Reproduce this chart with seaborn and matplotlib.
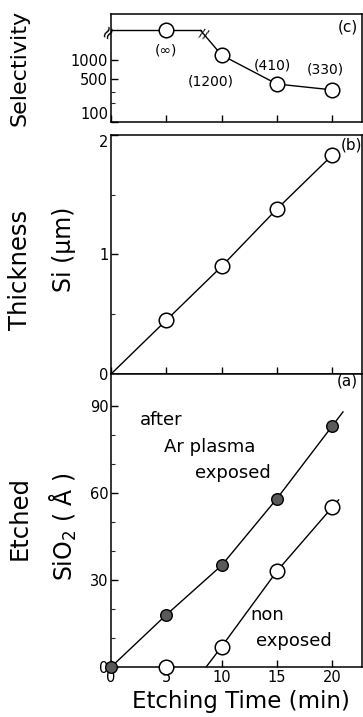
import numpy as np
import matplotlib.pyplot as plt
import seaborn as sns
from matplotlib.ticker import FixedLocator, NullFormatter

# data
time = [0, 5, 10, 15, 20]
sel_time = [5, 10, 15, 20]
selectivity = [np.inf, 1200, 410, 330]
sel_labels = ["(∞)", "(1200)", "(410)", "(330)"]
si_thick = [0.0, 0.45, 0.90, 1.38, 1.83]
sio2_after = [0, 18, 35, 58, 83]
nonexp_time = [5, 10, 15, 20]
nonexp = [0, 7, 33, 55]
nonexp_onset = 8.6  # where the non-exposed line leaves zero

sns.set_theme(style="ticks")
plt.rcParams['font.family'] = ['DejaVu Sans']
plt.rcParams['text.color'] = 'black'

fig = plt.figure(figsize=(3.63, 7.17), dpi=100)
ax_c = fig.add_axes([0.306, 0.8298, 0.691, 0.1506])
ax_b = fig.add_axes([0.306, 0.4784, 0.691, 0.3333])
ax_a = fig.add_axes([0.306, 0.0697, 0.691, 0.4087])

XMAX = 22.7
BREAK = 3000  # level where "infinite" selectivity is drawn


def extend(xs, ys, frac=0.2):
    # carry the last segment on a little, as the hand-drawn curves do
    dx, dy = xs[-1] - xs[-2], ys[-1] - ys[-2]
    return list(xs) + [xs[-1] + frac * dx], list(ys) + [ys[-1] + frac * dy]


for ax in (ax_a, ax_b, ax_c):
    ax.set_xlim(0, XMAX)
    ax.tick_params(direction='in', length=5, width=1, labelsize=10.5, colors='black',
                   labelcolor='black', pad=2)
    ax.tick_params(which='minor', direction='in', length=3, width=0.8)
    for s in ax.spines.values():
        s.set_linewidth(1.1)
        s.set_color('black')
    ax.xaxis.set_major_locator(FixedLocator([0, 5, 10, 15, 20]))

# ---- (c) selectivity ----
ax_c.set_yscale('log')
ax_c.set_ylim(100, 5500)
sel_plot = [BREAK if np.isinf(v) else v for v in selectivity]
ax_c.plot([0, 8.1], [BREAK, BREAK], color='black', lw=1)
ax_c.plot([8.1, 10], [BREAK, sel_plot[1]], color='black', lw=1)
sns.lineplot(x=sel_time[1:], y=sel_plot[1:], ax=ax_c, color='black', lw=1, estimator=None)
sns.scatterplot(x=sel_time, y=sel_plot, ax=ax_c, s=110, facecolor='white',
                edgecolor='black', linewidth=1.1, zorder=3)
ax_c.text(8.4, 2600, "//", fontsize=9, ha='center', va='center', rotation=-20)
ax_c.text(-0.2, BREAK * 0.93, "≈", fontsize=13, ha='center', va='center',
          clip_on=False, rotation=60)
offs = [(0, -0.32), (-1.0, -0.42), (-0.4, 0.3), (-0.6, 0.33)]
for t, v, lab, (dx, dy) in zip(sel_time, sel_plot, sel_labels, offs):
    ax_c.text(t + dx, v * 10 ** dy, lab, fontsize=10, ha='center', va='center')
ax_c.yaxis.set_major_locator(FixedLocator([100, 500, 1000]))
ax_c.yaxis.set_minor_locator(FixedLocator([200, 300]))
ax_c.yaxis.set_major_formatter(plt.FuncFormatter(lambda v, p: f"{int(v)}"))
ax_c.yaxis.set_minor_formatter(NullFormatter())
ax_c.set_xticklabels([])
ax_c.text(0.985, 0.88, "(c)", transform=ax_c.transAxes, ha='right', va='center', fontsize=11)

# ---- (b) Si ----
ax_b.set_ylim(0, 2)
sns.lineplot(x=time, y=si_thick, ax=ax_b, color='black', lw=1, estimator=None)
sns.scatterplot(x=time[1:], y=si_thick[1:], ax=ax_b, s=110, facecolor='white',
                edgecolor='black', linewidth=1.1, zorder=3)
ax_b.yaxis.set_major_locator(FixedLocator([0, 1, 2]))
ax_b.yaxis.set_minor_locator(FixedLocator([0.5, 1.5]))
ax_b.set_xticklabels([])
ax_b.text(1.0, 0.96, "(b)", transform=ax_b.transAxes, ha='right', va='center', fontsize=11)

# ---- (a) SiO2 ----
ax_a.set_ylim(0, 101)
ax_x, ax_y = extend(time, sio2_after)
ne_x, ne_y = extend([nonexp_onset] + nonexp_time[1:], [0] + nonexp[1:], 0.12)
sns.lineplot(x=ax_x, y=ax_y, ax=ax_a, color='black', lw=1, estimator=None)
sns.lineplot(x=ne_x, y=ne_y, ax=ax_a, color='black', lw=1, estimator=None)
sns.scatterplot(x=time, y=sio2_after, ax=ax_a, s=70, facecolor='#5a5a5a',
                edgecolor='black', linewidth=1, zorder=3, clip_on=False)
sns.scatterplot(x=nonexp_time, y=nonexp, ax=ax_a, s=110, facecolor='white',
                edgecolor='black', linewidth=1.1, zorder=3, clip_on=False)
ax_a.yaxis.set_major_locator(FixedLocator([0, 30, 60, 90]))
ax_a.yaxis.set_minor_locator(FixedLocator([10, 20, 40, 50, 70, 80]))
ax_a.text(2.6, 85, "after", fontsize=13, ha='left', va='center')
ax_a.text(4.8, 76, "Ar plasma", fontsize=13, ha='left', va='center')
ax_a.text(7.6, 67, "exposed", fontsize=13, ha='left', va='center')
ax_a.text(12.6, 18, "non", fontsize=13, ha='left', va='center')
ax_a.text(13.1, 9, "exposed", fontsize=13, ha='left', va='center')
ax_a.text(0.985, 0.975, "(a)", transform=ax_a.transAxes, ha='right', va='center', fontsize=11)

# keep the stacked "100" and "2" labels apart
ax_c.get_yticklabels()[0].set_va('bottom')
ax_b.get_yticklabels()[-1].set_va('top')

# axis titles
fig.text(0.055, 0.905, "Selectivity", rotation=90, ha='center', va='center', fontsize=16)
fig.text(0.055, 0.623, "Thickness", rotation=90, ha='center', va='center', fontsize=17.5)
fig.text(0.055, 0.278, "Etched", rotation=90, ha='center', va='center', fontsize=17.5)
fig.text(0.175, 0.652, "Si (μm)", rotation=90, ha='center', va='center', fontsize=17)
fig.text(0.175, 0.265, "SiO$_2$ ( Å )", rotation=90, ha='center', va='center', fontsize=17)
fig.text(0.665, 0.022, "Etching Time (min)", ha='center', va='center', fontsize=16.5)

fig.savefig("out.png", dpi=100)
